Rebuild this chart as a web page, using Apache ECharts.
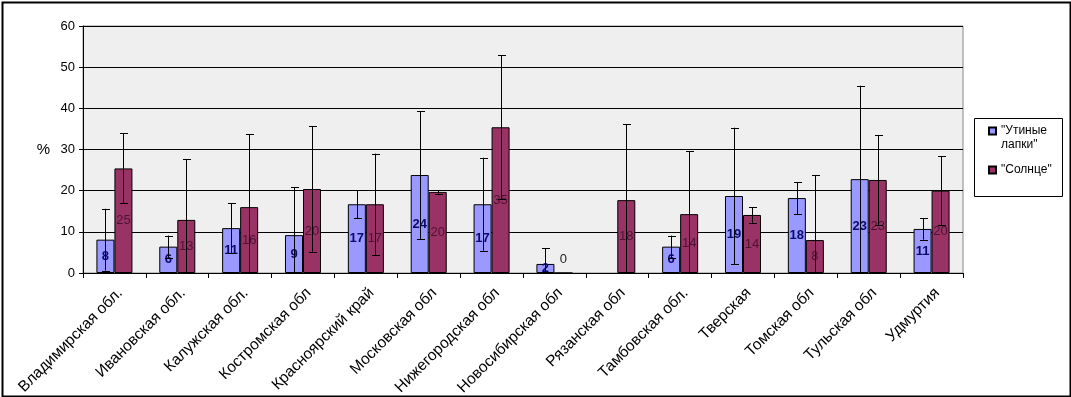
<!DOCTYPE html>
<html>
<head>
<meta charset="utf-8">
<script src="https://cdn.jsdelivr.net/npm/echarts@6/dist/echarts.min.js"></script>
<style>
html,body{margin:0;padding:0;background:#fff;}
#c{width:1071px;height:397px;}
</style>
</head>
<body>
<div id="c"></div>
<script>
const categories = ['Владимирская обл.', 'Ивановская обл.', 'Калужская обл.', 'Костромская обл', 'Красноярский край', 'Московская обл', 'Нижегородская обл', 'Новосибирская обл', 'Рязанская обл', 'Тамбовская обл.', 'Тверская', 'Томская обл', 'Тульская обл', 'Удмуртия'];
const seriesNames = ['"Утиные лапки"', '"Солнце"'];
const duckValues = [8.1, 6.4, 10.9, 9.2, 16.7, 23.8, 16.7, 2.2, null, 6.4, 18.7, 18.2, 22.8, 10.7];
const sunValues = [25.4, 12.9, 16.0, 20.4, 16.7, 19.7, 35.4, 0, 17.7, 14.3, 14.1, 8.0, 22.6, 20.0];
const duckErrors = [7.5, 2.7, 6.0, 11.7, 3.4, 15.5, 11.3, 3.8, null, 2.7, 16.6, 3.9, 22.7, 2.6];
const sunErrors = [8.5, 14.8, 17.7, 15.2, 12.3, 0.4, 17.5, null, 18.5, 15.3, 1.9, 15.8, 10.9, 8.3];
const yTicks = { min: 0, max: 60, interval: 10 };

const FONT = 'Liberation Sans, Arial, sans-serif';
const GAP = 0.427; // category gap fraction
const chart = echarts.init(document.getElementById('c'));

function errSeries(values, errors, side) {
  const data = values.map((v, i) => [i, v, errors[i]]).filter(d => d[1] != null && d[2] != null);
  return {
    type: 'custom',
    z: 3,
    silent: true,
    data: data,
    renderItem: function (params, api) {
      const idx = api.value(0), v = api.value(1), e = api.value(2);
      const catW = api.size([1, 0])[0];
      const barW = catW * (1 - GAP) / 2;
      const hi = v + e;
      const lo = Math.max(yTicks.min, v - e);
      const pTop = api.coord([idx, hi]);
      const pBot = api.coord([idx, lo]);
      const x = Math.round(pTop[0] + side * barW / 2) + 0.5;
      const cap = 3.5;
      const style = { stroke: '#000', lineWidth: 1 };
      const children = [
        { type: 'line', shape: { x1: x, y1: pTop[1], x2: x, y2: pBot[1] }, style: style },
        { type: 'line', shape: { x1: x - cap, y1: Math.round(pTop[1]) + 0.5, x2: x + cap + 1, y2: Math.round(pTop[1]) + 0.5 }, style: style }
      ];
      if (v - e >= yTicks.min) {
        children.push({ type: 'line', shape: { x1: x - cap, y1: Math.round(pBot[1]) + 0.5, x2: x + cap + 1, y2: Math.round(pBot[1]) + 0.5 }, style: style });
      }
      return { type: 'group', children: children };
    }
  };
}

const option = {
  backgroundColor: '#fff',
  animation: false,
  textStyle: { fontFamily: FONT },
  graphic: [{
    type: 'rect', left: 0, top: 0, z: 100, silent: true,
    shape: { x: 1, y: 1, width: 1068, height: 394 },
    style: { fill: 'none', stroke: '#000', lineWidth: 2 }
  }, {
    type: 'rect', z: -1, silent: true,
    shape: { x: 974.5, y: 118.5, width: 88, height: 78 },
    style: { fill: '#fff', stroke: '#000', lineWidth: 1 }
  }],
  legend: {
    orient: 'vertical',
    left: 988, top: 110,
    padding: 0,
    itemGap: 11,
    itemWidth: 7, itemHeight: 7,
    icon: 'rect',
    data: seriesNames,
    formatter: n => n.indexOf(' ') >= 0 ? '\n' + n.replace(' ', '\n') : n,
    textStyle: { fontFamily: FONT, fontSize: 12, color: '#000', lineHeight: 14 }
  },
  grid: {
    left: 83, top: 26, right: 108, bottom: 124,
    outerBoundsMode: 'none',
    containLabel: false,
    show: true, backgroundColor: '#efefef', borderColor: '#8a8a8a', borderWidth: 1
  },
  xAxis: {
    type: 'category',
    data: categories,
    axisLine: { lineStyle: { color: '#000', width: 1 } },
    axisTick: { show: true, alignWithLabel: false, length: 5, lineStyle: { color: '#000' } },
    axisLabel: { rotate: 45, interval: 0, margin: 12, verticalAlign: 'top', fontFamily: FONT, fontSize: 15.5, color: '#000' },
    splitLine: { show: false }
  },
  yAxis: {
    type: 'value',
    min: yTicks.min, max: yTicks.max, interval: yTicks.interval,
    name: '%', nameLocation: 'middle', nameRotate: 0, nameGap: 33,
    nameTextStyle: { fontFamily: FONT, fontSize: 15, color: '#000' },
    axisLine: { show: true, lineStyle: { color: '#000' } },
    axisTick: { show: true, length: 4, lineStyle: { color: '#000' } },
    axisLabel: { fontFamily: FONT, fontSize: 13, color: '#000', margin: 8 },
    splitLine: { show: true, lineStyle: { color: '#000', width: 1 } }
  },
  series: [
    {
      name: seriesNames[0], type: 'bar',
      data: duckValues.map(v => v == null ? '-' : v),
      barGap: '0%', barCategoryGap: (GAP * 100) + '%',
      itemStyle: { color: '#9999ff', borderColor: '#000', borderWidth: 1 },
      label: { show: true, position: 'inside', formatter: p => Math.round(p.value), fontFamily: FONT, fontSize: 13, fontWeight: 'bold', color: '#0a0a6e' },
      labelLayout: { hideOverlap: false },
      z: 2
    },
    {
      name: seriesNames[1], type: 'bar',
      data: sunValues.map(v => v === 0 ? { value: v, label: { position: 'insideBottom', distance: 8, color: '#222' } } : v),
      barGap: '0%', barCategoryGap: (GAP * 100) + '%',
      itemStyle: { color: '#993366', borderColor: '#000', borderWidth: 1 },
      label: { show: true, position: 'inside', formatter: p => Math.round(p.value), fontFamily: FONT, fontSize: 13, color: '#4f1233' },
      labelLayout: { hideOverlap: false },
      z: 2
    },
    errSeries(duckValues, duckErrors, -1),
    errSeries(sunValues, sunErrors, 1)
  ]
};
chart.setOption(option);
</script>
</body>
</html>
